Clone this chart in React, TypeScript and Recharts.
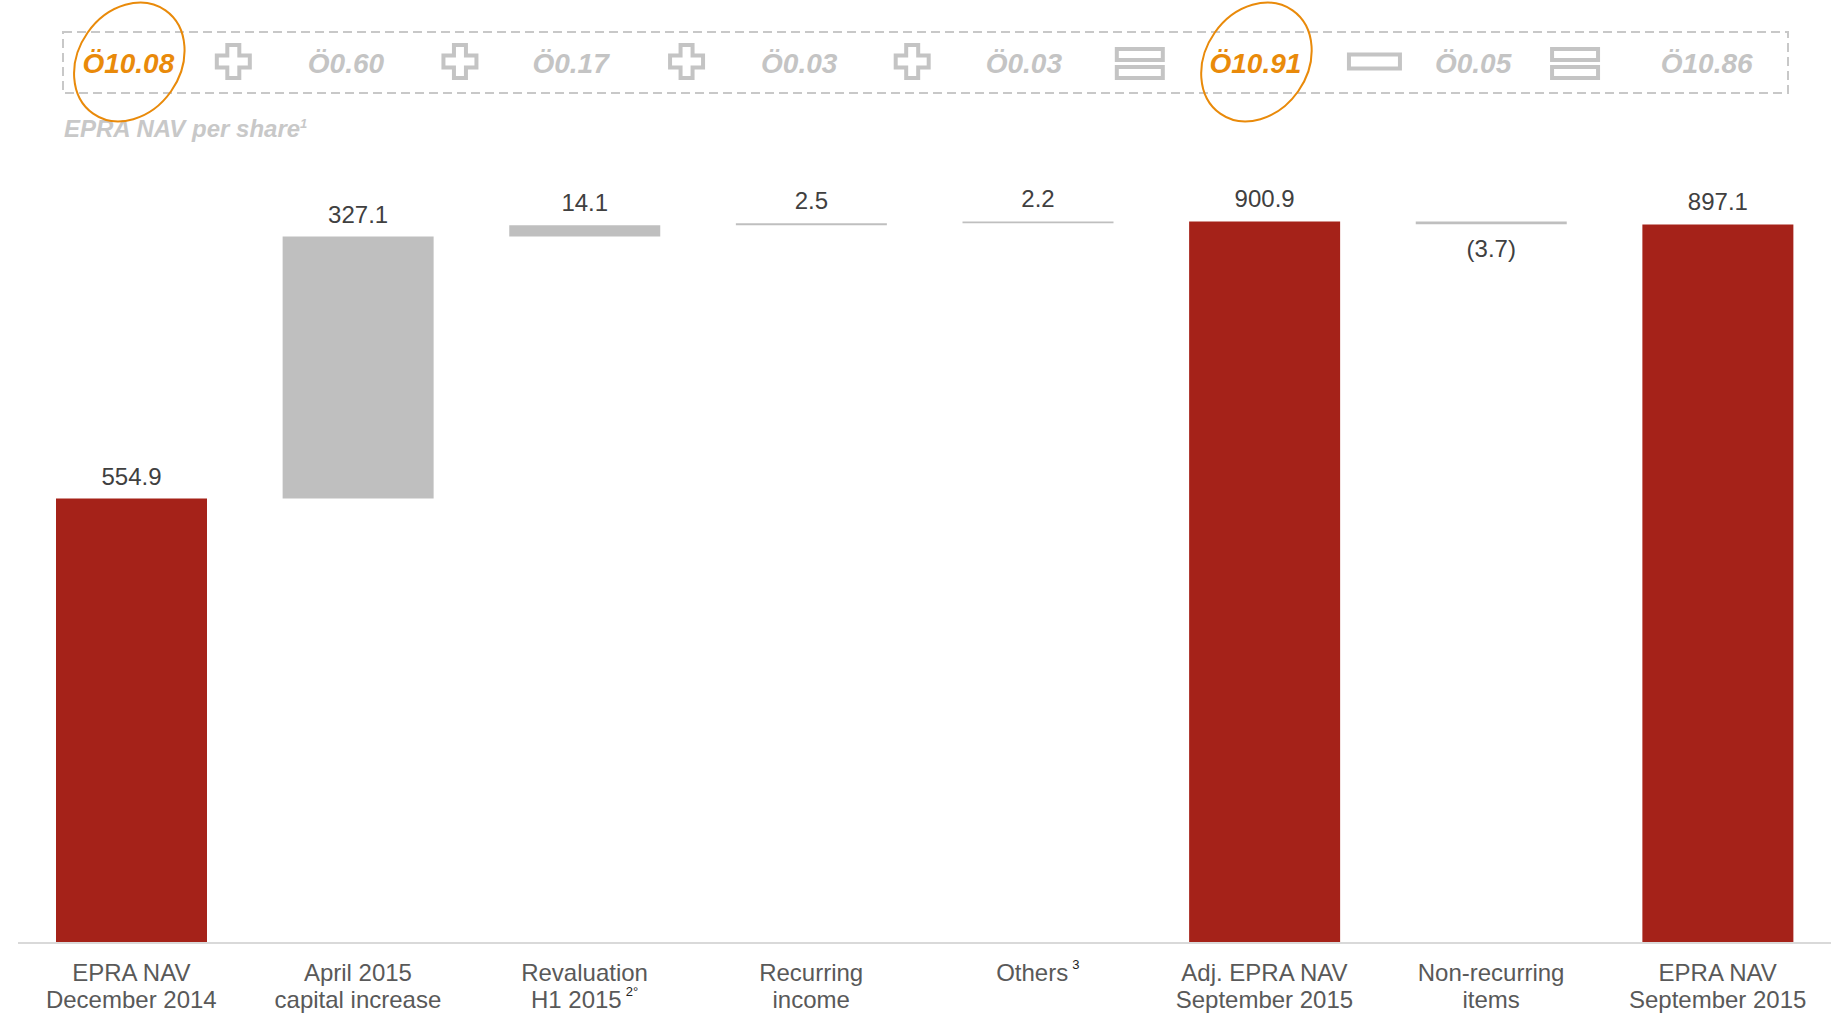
import React from 'react';
import { ComposedChart, Bar, XAxis, YAxis, Cell, LabelList } from 'recharts';

// ---- data ----
const categories = ['EPRA NAV December 2014', 'April 2015 capital increase', 'Revaluation H1 2015', 'Recurring income', 'Others', 'Adj. EPRA NAV September 2015', 'Non-recurring items', 'EPRA NAV September 2015'];
const labelLine1 = ['EPRA NAV', 'April 2015', 'Revaluation', 'Recurring', 'Others', 'Adj. EPRA NAV', 'Non-recurring', 'EPRA NAV'];
const labelLine2 = ['December 2014', 'capital increase', 'H1 2015', 'income', '', 'September 2015', 'items', 'September 2015'];
const labelSup = ['', '', '2°', '', '3', '', '', ''];
const labelSupLine = [0, 0, 2, 0, 1, 0, 0, 0];
const values = [554.9, 327.1, 14.1, 2.5, 2.2, 900.9, -3.7, 897.1];
const kinds = ['total', 'step', 'step', 'step', 'step', 'total', 'step', 'total'];
const perShare = ['Ö10.08', 'Ö0.60', 'Ö0.17', 'Ö0.03', 'Ö0.03', 'Ö10.91', 'Ö0.05', 'Ö10.86'];
const perShareHighlight = [true, false, false, false, false, true, false, false];
const operators = ['plus', 'plus', 'plus', 'plus', 'equal', 'minus', 'equal', ''];

// layout tweaks (pixel offsets from category centre, not data)
const valueShift = [-3, -12, -14, -12, -14, -9, -18, -11];
const opShift = [102, 102, 102, 101, 102, 110, 84, 0];

const RED = '#A52219';
const GREY = '#BFBFBF';
const ORANGE = '#E98A0A';
const STRIP = '#C4C4C4';
const FONT = '"Liberation Sans", Arial, sans-serif';

// build waterfall rows
let running = 0;
const rows = categories.map((name, i) => {
  const v = values[i];
  let base = 0;
  let delta = v;
  if (kinds[i] === 'total') {
    base = 0;
    delta = v;
    running = v;
  } else if (v >= 0) {
    base = running;
    delta = v;
    running = running + v;
  } else {
    base = running + v;
    delta = -v;
    running = running + v;
  }
  return { name, base, delta };
});

const fmt = (v: number) => (v < 0 ? `(${Math.abs(v).toFixed(1)})` : v.toFixed(1));

const ValueLabel = (props: any) => {
  const { x, y, width, height, index } = props;
  const v = values[index];
  const cx = x + width / 2;
  const ty = v < 0 ? y + height + 33 : y - 14;
  return (
    <text x={cx} y={ty} textAnchor="middle" fontFamily={FONT} fontSize={24} fill="#404040">
      {fmt(v)}
    </text>
  );
};

const BottomTick = (props: any) => {
  const { x, index } = props;
  const sup = labelSup[index];
  const supLine = labelSupLine[index];
  const line = (txt: string, yy: number, n: number) => (
    <text x={x} y={yy} textAnchor="middle" fontFamily={FONT} fontSize={24} fill="#595959">
      <tspan>{txt}</tspan>
      {sup && supLine === n ? (
        <tspan dx={4} dy={-12} fontSize={13} fill="#222">{sup}</tspan>
      ) : null}
    </text>
  );
  return (
    <g>
      {line(labelLine1[index], 981, 1)}
      {labelLine2[index] ? line(labelLine2[index], 1008, 2) : null}
    </g>
  );
};

const Operator = ({ kind, cx, cy }: { kind: string; cx: number; cy: number }) => {
  const st = { fill: 'none', stroke: STRIP, strokeWidth: 4 };
  if (kind === 'plus') {
    const s = 16.5;
    const a = 6;
    const d = `M${cx - a},${cy - s} L${cx + a},${cy - s} L${cx + a},${cy - a} L${cx + s},${cy - a} L${cx + s},${cy + a} L${cx + a},${cy + a} L${cx + a},${cy + s} L${cx - a},${cy + s} L${cx - a},${cy + a} L${cx - s},${cy + a} L${cx - s},${cy - a} L${cx - a},${cy - a} Z`;
    return <path d={d} {...st} />;
  }
  if (kind === 'equal') {
    return (
      <g>
        <rect x={cx - 23} y={cy - 12.5} width={46} height={11} {...st} />
        <rect x={cx - 23} y={cy + 5.5} width={46} height={11} {...st} />
      </g>
    );
  }
  if (kind === 'minus') {
    return <rect x={cx - 25.5} y={cy - 7} width={51} height={14} {...st} />;
  }
  return null;
};

const TopTick = (props: any) => {
  const { x, index } = props;
  const hl = perShareHighlight[index];
  const tx = x + valueShift[index];
  return (
    <g>
      {index === 0 ? (
        <g>
          <rect x={63} y={32} width={1725} height={61} fill="none" stroke="#C8C8C8" strokeWidth={2} strokeDasharray="9 5" />
          <text x={64} y={137} fontFamily={FONT} fontSize={24} fontWeight="bold" fontStyle="italic" fill="#C8C8C8">
            EPRA NAV per share
            <tspan dy={-9} fontSize={13}>1</tspan>
          </text>
        </g>
      ) : null}
      <text x={tx} y={73} textAnchor="middle" fontFamily={FONT} fontSize={28} fontWeight="bold" fontStyle="italic" fill={hl ? ORANGE : STRIP}>
        {perShare[index]}
      </text>
      {hl ? (
        <ellipse cx={tx + 1} cy={62} rx={51} ry={63} fill="none" stroke={ORANGE} strokeWidth={2} transform={`rotate(35 ${tx + 1} 62)`} />
      ) : null}
      {operators[index] ? <Operator kind={operators[index]} cx={x + opShift[index]} cy={61.5} /> : null}
    </g>
  );
};

export default function App() {
  return (
    <div style={{ position: 'absolute', left: 0, top: 0, width: 1832, height: 1014, background: '#fff' }}>
      <ComposedChart width={1832} height={1014} data={rows} margin={{ top: 12, right: 1, bottom: 11, left: 18 }}>
        <XAxis
          xAxisId="top"
          orientation="top"
          dataKey="name"
          height={130}
          axisLine={false}
          tickLine={false}
          interval={0}
          tick={<TopTick />}
        />
        <XAxis
          xAxisId="bottom"
          dataKey="name"
          height={60}
          interval={0}
          tickLine={false}
          axisLine={{ stroke: '#D9D9D9', strokeWidth: 2 }}
          tick={<BottomTick />}
        />
        <YAxis hide domain={[0, 1000]} />
        <Bar xAxisId="bottom" dataKey="base" stackId="w" fill="transparent" barSize={151} isAnimationActive={false} />
        <Bar xAxisId="bottom" dataKey="delta" stackId="w" barSize={151} isAnimationActive={false}>
          {rows.map((r, i) => (
            <Cell key={r.name} fill={kinds[i] === 'total' ? RED : GREY} />
          ))}
          <LabelList dataKey="delta" content={<ValueLabel />} />
        </Bar>
      </ComposedChart>
    </div>
  );
}
